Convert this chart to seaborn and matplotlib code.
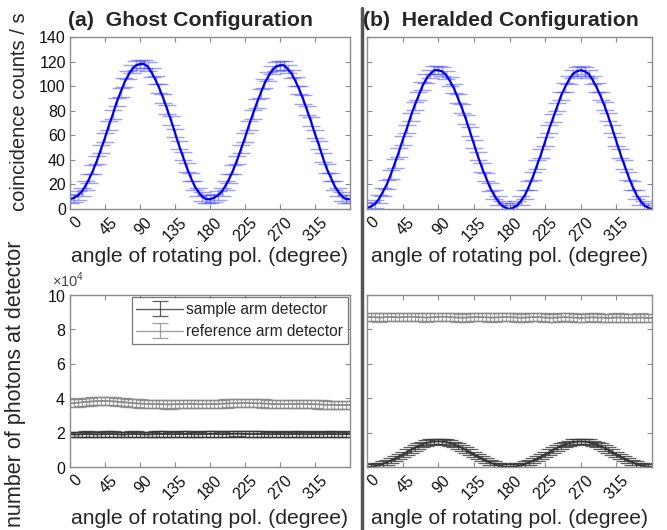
import numpy as np
import pandas as pd
import matplotlib
matplotlib.use("Agg")
import matplotlib.pyplot as plt
import matplotlib.transforms as mtransforms
import seaborn as sns
from matplotlib.ticker import ScalarFormatter
from matplotlib.lines import Line2D

# ---------------- data ----------------
angle = list(range(0, 361, 5))

ghost_coinc = [
    8, 9, 11, 14, 19, 25, 32, 40, 49, 58,
    68, 77, 87, 95, 103, 109, 114, 117, 118, 118,
    116, 111, 105, 98, 90, 81, 72, 62, 52, 43,
    34, 26, 19, 14, 10, 8, 8, 9, 11, 14,
    19, 25, 32, 40, 49, 58, 68, 77, 86, 94,
    102, 108, 113, 116, 117, 117, 114, 110, 104, 97,
    89, 80, 71, 61, 52, 42, 33, 26, 19, 14,
    10, 8, 8,
]
herald_coinc = [
    1, 2, 4, 8, 14, 20, 28, 37, 46, 56,
    65, 75, 84, 92, 100, 106, 110, 113, 113, 112,
    109, 104, 98, 90, 82, 73, 63, 53, 43, 34,
    26, 18, 12, 7, 3, 1, 0, 1, 3, 7,
    12, 19, 27, 36, 45, 55, 65, 74, 83, 92,
    99, 105, 110, 112, 113, 112, 110, 105, 99, 92,
    84, 75, 65, 55, 45, 36, 27, 19, 12, 7,
    3, 1, 0,
]
ghost_ref = [
    37000, 37200, 37400, 37600, 37800, 38000, 38200, 38300, 38400, 38400,
    38300, 38200, 38000, 37800, 37600, 37400, 37200, 37000, 36900, 36800,
    36700, 36600, 36600, 36500, 36500, 36400, 36400, 36500, 36600, 36600,
    36700, 36700, 36600, 36600, 36500, 36500, 36600, 36600, 36700, 36800,
    36900, 37000, 37000, 37100, 37200, 37200, 37200, 37100, 37000, 37000,
    36900, 36800, 36700, 36600, 36600, 36500, 36500, 36600, 36600, 36700,
    36700, 36600, 36600, 36500, 36400, 36300, 36200, 36200, 36100, 36100,
    36000, 36000, 36000,
]
ghost_sample = [
    19000, 18900, 18900, 19000, 19100, 19100, 19000, 18900, 19000, 19100,
    19200, 19100, 19000, 18900, 18900, 19000, 19100, 19100, 19000, 19000,
    18900, 19000, 19100, 19200, 19200, 19100, 19000, 19000, 19100, 19200,
    19200, 19100, 19000, 19000, 19100, 19200, 19300, 19200, 19100, 19000,
    19100, 19200, 19300, 19400, 19300, 19200, 19100, 19100, 19200, 19200,
    19100, 19000, 19000, 19100, 19100, 19000, 19000, 19100, 19200, 19100,
    19000, 19000, 19100, 19100, 19000, 19000, 19100, 19200, 19100, 19000,
    19000, 19100, 19100,
]
herald_ref = [
    87000, 87200, 87100, 86900, 87000, 87200, 87300, 87100, 87000, 87100,
    87300, 87400, 87300, 87100, 87000, 86900, 87000, 87100, 87300, 87400,
    87300, 87100, 87000, 86900, 86800, 86900, 87000, 87100, 87200, 87100,
    87000, 86900, 86900, 87000, 87100, 87200, 87100, 87000, 86900, 86800,
    86900, 87000, 87100, 87100, 87000, 86900, 86800, 86800, 86900, 87000,
    87100, 87000, 86900, 86800, 86700, 86800, 86900, 87000, 86900, 86800,
    86800, 86700, 86800, 86900, 86900, 86800, 86700, 86700, 86800, 86900,
    86800, 86700, 86700,
]
herald_sample = [
    100, 200, 500, 1000, 1800, 2700, 3700, 4900, 6100, 7400,
    8700, 9900, 11100, 12200, 13200, 13900, 14500, 14800, 14900, 14800,
    14500, 13900, 13200, 12200, 11100, 9900, 8700, 7400, 6100, 4900,
    3700, 2700, 1800, 1000, 500, 200, 100, 200, 500, 1000,
    1800, 2700, 3700, 4900, 6100, 7400, 8700, 9900, 11100, 12200,
    13100, 13800, 14400, 14700, 14800, 14700, 14400, 13800, 13100, 12200,
    11100, 9900, 8700, 7400, 6100, 4900, 3700, 2700, 1800, 1000,
    500, 200, 100,
]
coinc_err = 3.5
ref_err = 2400
sample_err = 1600

xticks = [0, 45, 90, 135, 180, 225, 270, 315]
top_yticks = [0, 20, 40, 60, 80, 100, 120, 140]
bot_yticks = [0, 20000, 40000, 60000, 80000, 100000]

# ---------------- style ----------------
sns.set_theme(style="white")
plt.rcParams["font.family"] = ["Liberation Sans", "DejaVu Sans"]
plt.rcParams["mathtext.fontset"] = "custom"
plt.rcParams["mathtext.rm"] = "Liberation Sans"

fig = plt.figure(figsize=(6.67, 5.30), dpi=100)
W, H = 667, 530

def box(l, t, r, b):
    return [l / W, 1 - b / H, (r - l) / W, (b - t) / H]

ax_tl = fig.add_axes(box(70, 37, 350, 209))
ax_tr = fig.add_axes(box(367, 37, 652, 209))
ax_bl = fig.add_axes(box(70, 295, 350, 467))
ax_br = fig.add_axes(box(367, 295, 652, 467))

spine_col = "#8c8c8c"
tick_fs = 11.5
lab_fs = 15.2
shift = mtransforms.ScaledTranslation(4.5 / 100, -2 / 100, fig.dpi_scale_trans)

def style_axes(ax, yticks, ylim, show_ylabels, xlabelpad):
    ax.set_xlim(0, 360)
    ax.set_ylim(*ylim)
    ax.set_xticks(xticks)
    ax.set_yticks(yticks)
    ax.tick_params(direction="in", length=3.5, width=0.8, color=spine_col,
                   top=True, right=True, bottom=True, left=True,
                   labelsize=tick_fs, labelcolor="#111111")
    ax.tick_params(axis="x", pad=2.5)
    ax.tick_params(axis="y", pad=3)
    if not show_ylabels:
        ax.tick_params(axis="y", labelleft=False)
    for s in ax.spines.values():
        s.set_color(spine_col)
        s.set_linewidth(1.0)
    ax.set_xlabel("angle of rotating pol. (degree)", fontsize=lab_fs, labelpad=xlabelpad)
    ax.set_ylabel("")

def rotate_xlabels(ax):
    for lab in ax.get_xticklabels():
        lab.set_rotation(45)
        lab.set_ha("right")
        lab.set_va("top")
        lab.set_rotation_mode("anchor")
        lab.set_transform(lab.get_transform() + shift)

df_top = pd.DataFrame({"angle": angle, "ghost": ghost_coinc, "herald": herald_coinc})
df_bot = pd.DataFrame({"angle": angle, "g_ref": ghost_ref, "g_sam": ghost_sample,
                       "h_ref": herald_ref, "h_sam": herald_sample})

blue = "#0000f0"
for ax, col in [(ax_tl, "ghost"), (ax_tr, "herald")]:
    ax.errorbar(df_top["angle"], df_top[col], yerr=coinc_err, fmt="none",
                ecolor="#4040ff", alpha=0.5, elinewidth=1.0, capsize=6.5, capthick=1.0)
    sns.lineplot(data=df_top, x="angle", y=col, ax=ax, color=blue, lw=1.6, legend=False)
    style_axes(ax, top_yticks, (0, 140), ax is ax_tl, 2)

dark = "#363636"
light = "#8a8a8a"
for ax, rcol, scol in [(ax_bl, "g_ref", "g_sam"), (ax_br, "h_ref", "h_sam")]:
    e1 = ax.errorbar(df_bot["angle"], df_bot[scol], yerr=sample_err, color=dark,
                     ecolor=dark, elinewidth=0.9, capsize=6, capthick=0.9, lw=1.0,
                     alpha=0.8, label="sample arm detector")
    e2 = ax.errorbar(df_bot["angle"], df_bot[rcol], yerr=ref_err, color=light,
                     ecolor=light, elinewidth=0.9, capsize=6, capthick=0.9, lw=1.0,
                     alpha=0.8, label="reference arm detector")
    sns.lineplot(data=df_bot, x="angle", y=scol, ax=ax, color=dark, lw=1.2, legend=False)
    sns.lineplot(data=df_bot, x="angle", y=rcol, ax=ax, color=light, lw=1.2, legend=False)
    style_axes(ax, bot_yticks, (0, 100000), ax is ax_bl, 5)
    fmt = ScalarFormatter(useMathText=True)
    fmt.set_powerlimits((4, 4))
    ax.yaxis.set_major_formatter(fmt)
    ax.yaxis.get_offset_text().set_visible(False)
    if ax is ax_bl:
        leg = ax.legend(handles=[e1, e2], loc="upper right", fontsize=11.2,
                        frameon=True, fancybox=False, edgecolor="#555555",
                        borderaxespad=0.15, handlelength=3.0, borderpad=0.3,
                        labelspacing=0.45, handletextpad=0.2)
        leg.get_frame().set_linewidth(0.9)

for ax in (ax_tl, ax_tr, ax_bl, ax_br):
    rotate_xlabels(ax)

ax_bl.text(-0.065, 1.03, r"$\times10^4$", transform=ax_bl.transAxes, fontsize=10.5,
           ha="left", va="bottom", color="#444444")

# panel titles
fig.text(68 / W, 1 - 21 / H, "(a)  Ghost Configuration", fontsize=15.3,
         fontweight="bold", ha="left", va="center")
fig.text(363 / W, 1 - 21 / H, "(b)  Heralded Configuration", fontsize=15.3,
         fontweight="bold", ha="left", va="center")

# y labels
fig.text(20 / W, 1 - 112 / H, "coincidence counts / s", fontsize=14.5,
         rotation=90, ha="center", va="center")
fig.text(16 / W, 1 - 384 / H, "number of photons at detector", fontsize=15.5,
         rotation=90, ha="center", va="center")

# separator
fig.add_artist(Line2D([362 / W, 362 / W], [0, 1 - 8 / H], transform=fig.transFigure,
                      color="#555555", lw=2.5))

fig.savefig("out.png", dpi=100)
